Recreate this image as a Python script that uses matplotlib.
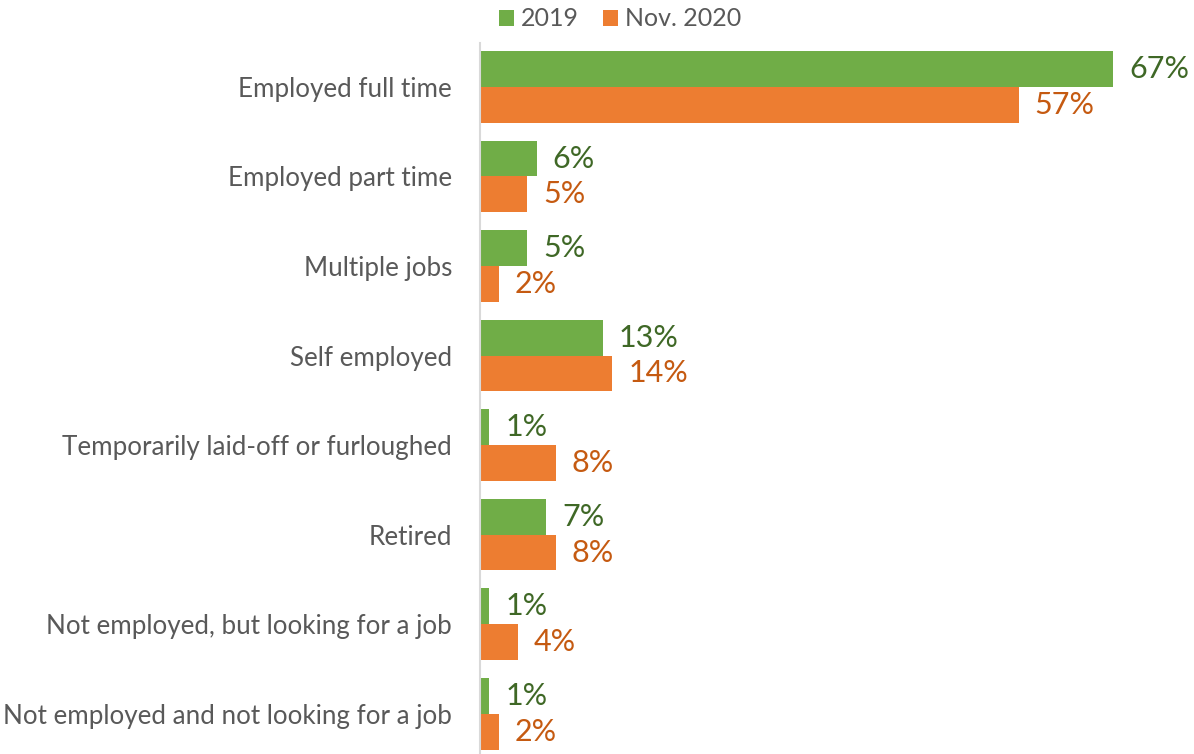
import matplotlib
matplotlib.use("Agg")
import matplotlib.pyplot as plt
import numpy as np

# survey categories and shares (%)
categories = [
    "Employed full time",
    "Employed part time",
    "Multiple jobs",
    "Self employed",
    "Temporarily laid-off or furloughed",
    "Retired",
    "Not employed, but looking for a job",
    "Not employed and not looking for a job",
]
share_2019 = [67, 6, 5, 13, 1, 7, 1, 1]
share_2020 = [57, 5, 2, 14, 8, 8, 4, 2]
series_names = ["2019", "Nov. 2020"]

GREEN = "#70AD47"
ORANGE = "#ED7D31"
GREEN_TXT = "#3F6826"
ORANGE_TXT = "#C55A11"
GREY_TXT = "#595959"

plt.rcParams["font.family"] = ["Lato", "DejaVu Sans"]

fig = plt.figure(figsize=(11.94, 7.54), dpi=100)
ax = fig.add_axes([480 / 1194, 0, 1 - 480 / 1194, (754 - 43) / 754])

y = np.arange(len(categories))
h = 0.4
ax.barh(y - h / 2, share_2019, height=h, color=GREEN, label=series_names[0])
ax.barh(y + h / 2, share_2020, height=h, color=ORANGE, label=series_names[1])

for yi, v in zip(y, share_2019):
    ax.text(v + 1.7, yi - h / 2, f"{v}%", va="center", ha="left",
            fontsize=22, color=GREEN_TXT)
for yi, v in zip(y, share_2020):
    ax.text(v + 1.7, yi + h / 2, f"{v}%", va="center", ha="left",
            fontsize=22, color=ORANGE_TXT)

ax.set_xlim(0, 714 / 9.45)
ax.set_ylim(7.45, -0.49)
ax.set_yticks(y)
ax.set_yticklabels(categories, fontsize=18.7, color=GREY_TXT)
ax.tick_params(axis="y", length=0, pad=20)
ax.set_xticks([])
for side in ["top", "right", "bottom"]:
    ax.spines[side].set_visible(False)
ax.spines["left"].set_color("#D9D9D9")
ax.spines["left"].set_linewidth(1.5)

leg = fig.legend(loc="center", bbox_to_anchor=(620 / 1194, 1 - 19 / 754),
                 ncol=2, frameon=False, fontsize=18, handlelength=0.6,
                 handleheight=0.6, handletextpad=0.25, columnspacing=1.0)
for t in leg.get_texts():
    t.set_color(GREY_TXT)

fig.savefig("out.png", dpi=100)
